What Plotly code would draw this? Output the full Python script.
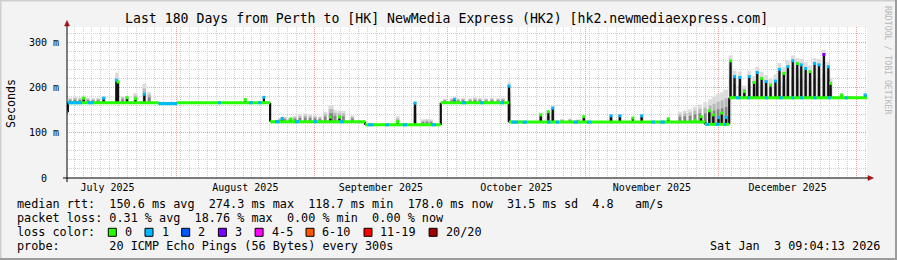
import numpy as np
import pandas as pd
import plotly.graph_objects as go

# ---------------- data ----------------
START = pd.Timestamp("2025-07-07 09:04:13")
END = pd.Timestamp("2026-01-03 09:04:13")
TITLE = "Last 180 Days from Perth to [HK] NewMedia Express (HK2) [hk2.newmediaexpress.com]"

# median RTT level changes: day offset from START, level in ms
step_day = [0.0, 0.2, 20.6, 24.75, 45.7, 67.05, 84.1, 99.45, 143.55, 149.0]
step_ms = [146, 167, 165, 167, 125, 118, 167, 124, 119, 178]

# ranges (day offsets) where the median line shows 1/20 loss (blue)
blue_start = [0.0, 0.2, 4.7, 20.6, 34.0, 41.0, 43.0, 46.8, 51.3, 55.5, 61.4, 67.7, 71.6, 75.5, 82.0,
              88.9, 93.0, 97.5, 100.1, 102.5, 108.0, 110.0, 114.0, 117.0, 131.5, 133.5,
              143.8, 146.0, 147.8, 150.5, 153.0, 157.0, 160.2, 163.0, 165.0, 168.0, 171.2, 175.0]
blue_end = [0.2, 3.4, 6.0, 24.75, 34.6, 41.8, 43.8, 47.8, 52.2, 56.3, 62.3, 69.0, 72.5, 76.5, 83.0,
            89.8, 93.8, 98.3, 101.5, 103.5, 108.8, 110.7, 115.0, 118.0, 132.3, 134.5,
            144.5, 146.8, 148.3, 151.5, 153.7, 157.6, 161.0, 163.6, 165.6, 168.6, 171.8, 175.6]

# median spikes: day offset, top in ms, loss count at the top
spike_day = [3.76, 8.26, 11.1, 11.5, 13.5, 15.4, 17.4, 40.1, 44.3, 48.4, 50.4, 59.25, 61.3, 74.4,
             78.3, 87.2, 99.45, 106.6, 108.3, 109.3, 116.3, 122.4, 124.4, 127.3, 129.3, 135.3,
             141.3, 142.7, 144.5, 145.4, 146.6, 147.3, 148.3,
             149.3, 150.2, 151.4, 152.4, 153.5, 154.6, 155.3, 156.3, 157.3, 158.3, 159.4, 160.3,
             161.3, 162.2, 163.3, 164.3, 165.2, 166.2, 167.2, 168.2, 169.2, 170.3, 171.3, 171.8,
             174.3, 179.6]
spike_ms = [177, 177, 217, 213, 178, 176, 186, 174, 179, 132, 131, 135, 135, 125,
            166, 175, 204, 140, 147, 155, 136, 138, 138, 133, 138, 131,
            128, 136, 149, 140, 134, 144, 134,
            260, 225, 223, 192, 225, 212, 234, 221, 214, 206, 215, 241,
            232, 247, 260, 254, 251, 243, 236, 254, 251, 274, 247, 210,
            184, 184]
spike_loss = [0, 1, 1, 0, 0, 0, 1, 0, 1, 1, 0, 0, 0, 0,
              1, 1, 1, 0, 0, 1, 0, 1, 1, 0, 1, 0,
              0, 0, 0, 0, 1, 0, 1,
              0, 1, 1, 0, 1, 0, 1, 0, 1, 0, 1, 1,
              0, 1, 1, 0, 1, 1, 0, 1, 1, 3, 1, 0,
              0, 1]

# smoke (spread of the 20 pings): day offset, top of smoke in ms
smoke_day = [0.7, 1.8, 2.9, 3.76, 4.7, 5.85, 7.0, 8.26, 11.25, 12.5, 13.5, 15.4, 17.4, 18.5,
             47.9, 49.0, 50.2, 51.3, 52.4, 53.6, 54.7, 55.8, 56.9, 58.1, 59.25, 59.6, 60.3, 61.3,
             62.2, 64.2,
             74.4, 78.3, 80.1, 81.0, 81.9,
             85.0, 86.6, 88.0, 89.1, 90.7, 91.8, 92.9, 94.3, 95.6, 97.0, 98.1, 99.5,
             101.9, 104.2, 106.6, 108.3, 109.3, 111.4, 113.2, 115.0, 116.3,
             122.4, 124.4, 129.3, 135.3, 137.9, 139.0, 140.2, 141.3, 142.4, 143.6, 144.7, 145.6,
             146.5, 147.4, 148.3,
             149.3, 150.2, 151.4, 152.4, 153.5, 154.6, 155.3, 156.3, 157.3, 158.3, 159.4, 160.3,
             161.3, 162.2, 163.3, 164.3, 165.2, 166.2, 167.2, 168.2, 169.2, 170.3, 171.3, 171.8,
             174.3, 176.0, 179.6]
smoke_ms = [178, 180, 179, 183, 178, 177, 178, 181, 234, 182, 181, 188, 209, 191,
            133, 136, 134, 138, 141, 143, 141, 139, 137, 147, 162, 162, 151, 150,
            149, 139,
            137, 170, 130, 131, 130,
            176, 178, 177, 178, 177, 179, 178, 177, 178, 177, 178, 212,
            128, 127, 145, 150, 160, 131, 132, 130, 140,
            142, 141, 142, 135, 147, 150, 152, 158, 163, 168, 175, 180,
            186, 190, 196,
            272, 238, 236, 205, 238, 226, 247, 235, 228, 220, 230, 255,
            246, 261, 272, 266, 264, 257, 250, 266, 264, 284, 258, 222,
            188, 182, 188]

# axis ticks
y_tickvals = [0, 100, 200, 300]
y_ticktext = ["0\u00a0\u00a0", "100 m", "200 m", "300 m"]

# legend content
rtt_avg, rtt_max, rtt_min, rtt_now, rtt_sd, am_s = 150.6, 274.3, 118.7, 178.0, 31.5, 4.8
loss_avg, loss_max, loss_min, loss_now = 0.31, 18.76, 0.00, 0.00
loss_labels = ["0", "1", "2", "3", "4-5", "6-10", "11-19", "20/20"]
loss_colors = ["#26ff00", "#00b8ff", "#0059ff", "#7e00ff", "#ff00ff", "#ff5500", "#ff0000", "#a10000"]
probe_text = "20 ICMP Echo Pings (56 Bytes) every 300s"
stamp_text = "Sat Jan  3 09:04:13 2026"

# ---------------- helpers ----------------
L, T, W, H = 67, 27, 800, 151
FW, FH = 897, 260
MONO = "DejaVu Sans Mono"


def px(x):
    return (x - L) / W


def py(y):
    return (T + H - y) / H


def ts(d):
    return (START + pd.to_timedelta(d, unit="D")).strftime("%Y-%m-%d %H:%M:%S")


sd = np.array(step_day)
sm = np.array(step_ms)


def level(d):
    return float(sm[np.searchsorted(sd, d, side="right") - 1])


def segs(x0, x1, y0, y1):
    xs, ys = [], []
    for a, b, c, e in zip(x0, x1, y0, y1):
        xs += [ts(a), ts(b), None]
        ys += [c, e, None]
    return xs, ys


fig = go.Figure()

# smoke: layered gradient from light (top) to darker (near median)
smoke_layers = [(1.0, "#dcdcdc", 4), (0.75, "#b8b8b8", 3), (0.5, "#858585", 2.5)]
for frac, col, lw in smoke_layers:
    b = [level(d) for d in smoke_day]
    t = [bb + (s - bb) * frac for bb, s in zip(b, smoke_ms)]
    xs, ys = segs(smoke_day, smoke_day, b, t)
    fig.add_trace(go.Scatter(x=xs, y=ys, mode="lines", line=dict(color=col, width=lw),
                             hoverinfo="skip", showlegend=False))

# black spikes and black step transitions
x0 = list(spike_day) + step_day[1:]
y0 = [level(d) for d in spike_day] + step_ms[:-1]
y1 = list(spike_ms) + step_ms[1:]
xs, ys = segs(x0, x0, y0, y1)
fig.add_trace(go.Scatter(x=xs, y=ys, mode="lines", line=dict(color="#111111", width=2.2),
                         hoverinfo="skip", showlegend=False))

# median line (horizontal parts), green = 0 loss
ends = step_day[1:] + [180.0]
xs, ys = segs(step_day, ends, step_ms, step_ms)
fig.add_trace(go.Scatter(x=xs, y=ys, mode="lines", line=dict(color=loss_colors[0], width=3),
                         hoverinfo="skip", showlegend=False))
# blue = 1/20 loss
lv = [level(a) for a in blue_start]
xs, ys = segs(blue_start, blue_end, lv, lv)
fig.add_trace(go.Scatter(x=xs, y=ys, mode="lines", line=dict(color=loss_colors[1], width=3),
                         hoverinfo="skip", showlegend=False))

# colored tips of spikes
fig.add_trace(go.Scatter(x=[ts(d) for d in spike_day], y=spike_ms, mode="markers",
                         marker=dict(symbol="square", size=3,
                                     color=[loss_colors[k] for k in spike_loss], line=dict(width=0)),
                         hoverinfo="skip", showlegend=False))

GRID = "#d2d2d2"
MGRID = "#eda3a3"
fig.update_layout(
    width=FW, height=FH, autosize=False,
    margin=dict(l=L, r=FW - L - W, t=T, b=FH - T - H, pad=0),
    paper_bgcolor="#f3f3f3", plot_bgcolor="#ffffff",
    showlegend=False,
    font=dict(family=MONO, color="#000000"),
    xaxis=dict(
        type="date", range=[ts(0), ts(180)],
        dtick="M1", tick0="2025-08-01", ticklabelmode="period", tickformat="%B %Y",
        showgrid=True, gridcolor=MGRID, griddash="1px,1px", gridwidth=1,
        minor=dict(dtick=2 * 86400000, tick0="2025-11-02", showgrid=True,
                   gridcolor=GRID, griddash="1px,1px", gridwidth=1),
        zeroline=False, showline=False, ticks="", ticklabelstandoff=2,
        tickfont=dict(family=MONO, size=10, color="#000"),
        fixedrange=True,
    ),
    yaxis=dict(
        range=[0, 335], tickvals=y_tickvals, ticktext=y_ticktext,
        showgrid=True, gridcolor=MGRID, griddash="1px,1px", gridwidth=1,
        minor=dict(dtick=20, showgrid=True, gridcolor=GRID, griddash="1px,1px", gridwidth=1),
        zeroline=False, showline=False, ticks="", ticklabelstandoff=7,
        tickfont=dict(family=MONO, size=10, color="#000"),
        fixedrange=True,
    ),
)

shapes = []
# image frame
shapes.append(dict(type="line", xref="paper", yref="paper", x0=px(0), x1=px(FW), y0=py(0.5), y1=py(0.5),
                   line=dict(color="#cfcfcf", width=2)))
shapes.append(dict(type="line", xref="paper", yref="paper", x0=px(0.5), x1=px(0.5), y0=py(0), y1=py(FH),
                   line=dict(color="#cfcfcf", width=2)))
shapes.append(dict(type="line", xref="paper", yref="paper", x0=px(0), x1=px(FW), y0=py(FH - 1), y1=py(FH - 1),
                   line=dict(color="#9c9c9c", width=2)))
shapes.append(dict(type="line", xref="paper", yref="paper", x0=px(FW - 1), x1=px(FW - 1), y0=py(0), y1=py(FH),
                   line=dict(color="#9c9c9c", width=2)))
# axes with arrows
shapes.append(dict(type="line", xref="paper", yref="paper", x0=px(63), x1=px(869), y0=py(178), y1=py(178),
                   line=dict(color="#000000", width=1)))
shapes.append(dict(type="line", xref="paper", yref="paper", x0=px(67), x1=px(67), y0=py(182), y1=py(25),
                   line=dict(color="#000000", width=1)))
shapes.append(dict(type="path", xref="paper", yref="paper",
                   path=f"M {px(868)},{py(175.5)} L {px(873.5)},{py(178)} L {px(868)},{py(180.5)} Z",
                   fillcolor="#a01010", line=dict(color="#a01010", width=0.5)))
shapes.append(dict(type="path", xref="paper", yref="paper",
                   path=f"M {px(64.5)},{py(26)} L {px(67)},{py(20.5)} L {px(69.5)},{py(26)} Z",
                   fillcolor="#a01010", line=dict(color="#a01010", width=0.5)))

annotations = []


def ann(x, y, text, size, xanchor="left", color="#000000", angle=0):
    annotations.append(dict(xref="paper", yref="paper", x=px(x), y=py(y), text=text.replace(" ", "\u00a0"),
                            showarrow=False, xanchor=xanchor, yanchor="middle", textangle=angle,
                            borderpad=0, font=dict(family=MONO, size=size, color=color)))


ann(446, 19, TITLE, 13.2, xanchor="center")
ann(11, 103, "Seconds", 11.6, xanchor="center", angle=-90)
ann(888, 60, "RRDTOOL / TOBI OETIKER", 8.2, xanchor="center", color="#b8b8b8", angle=90)

LX = 16
row1 = (f"median rtt:  {rtt_avg:.1f} ms avg  {rtt_max:.1f} ms max  {rtt_min:.1f} ms min  "
        f"{rtt_now:.1f} ms now  {rtt_sd:.1f} ms sd  {am_s:.1f}   am/s")
row2 = (f"packet loss: {loss_avg:.2f} % avg  {loss_max:.2f} % max  {loss_min:.2f} % min  "
        f"{loss_now:.2f} % now")
ann(LX, 204.3, row1, 11.8)
ann(LX, 218.3, row2, 11.8)
ann(LX, 232.3, "loss color:", 11.8)
ann(LX, 245.8, "probe:       " + probe_text, 11.8)
ann(881, 245.8, stamp_text, 11.8, xanchor="right")

CW = 7.1
bx = 108.3
for lab, col in zip(loss_labels, loss_colors):
    shapes.append(dict(type="rect", xref="paper", yref="paper", x0=px(bx), x1=px(bx + 8),
                       y0=py(236.3), y1=py(228.3), fillcolor=col, line=dict(color="#000000", width=1)))
    ann(bx + 15.5, 232.3, lab, 11.8)
    bx += 29.6 + CW * len(lab)

fig.update_layout(shapes=shapes, annotations=annotations)
fig.write_html("out.html")
